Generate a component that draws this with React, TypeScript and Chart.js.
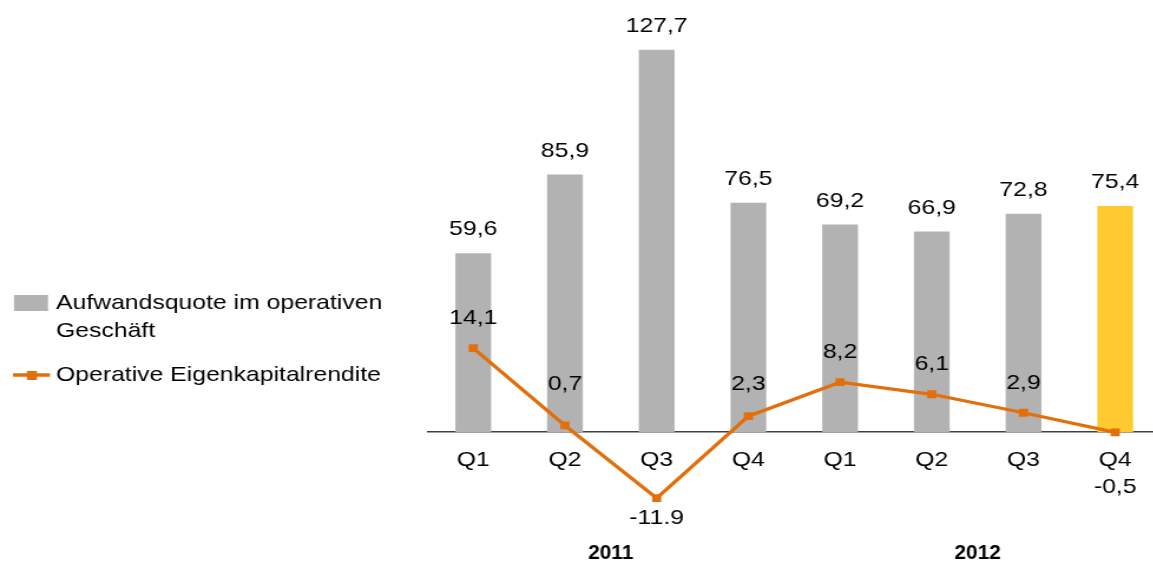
import React, { useEffect, useRef } from "react";
import { Chart, registerables } from "chart.js";

Chart.register(...registerables);

const categories = ["Q1", "Q2", "Q3", "Q4", "Q1", "Q2", "Q3", "Q4"];
const quarterYears = ["2011", "2011", "2011", "2011", "2012", "2012", "2012", "2012"];
const expenseRatio = [59.6, 85.9, 127.7, 76.5, 69.2, 66.9, 72.8, 75.4];
const operatingRoe = [14.1, 0.7, -11.9, 2.3, 8.2, 6.1, 2.9, -0.5];
const roeLabels = ["14,1", "0,7", "-11.9", "2,3", "8,2", "6,1", "2,9", "-0,5"];
const barLabel = "Aufwandsquote im operativen Geschäft";
const lineLabel = "Operative Eigenkapitalrendite";

const GRAY = "#b2b2b2";
const YELLOW = "#ffca2f";
const ORANGE = "#e36f0c";
const FONT = "'Liberation Sans', Arial, sans-serif";

// horizontal stretch of the rendered canvas (text in the reference is wide)
const S = 1.18;
const CSS_W = 1170;
const W = Math.round(CSS_W / S);
const H = 565;

const fmt = (v: number) => v.toFixed(1).replace(".", ",");

const labelsPlugin = {
  id: "customLabels",
  afterDatasetsDraw(chart: any) {
    const ctx = chart.ctx as CanvasRenderingContext2D;
    const barMeta = chart.getDatasetMeta(0);
    const lineMeta = chart.getDatasetMeta(1);
    const y2 = chart.scales.y2;
    const x = chart.scales.x;
    const zero2 = y2.getPixelForValue(0);
    ctx.save();
    ctx.fillStyle = "#000";
    ctx.textAlign = "center";
    ctx.textBaseline = "middle";
    ctx.font = `21px ${FONT}`;
    barMeta.data.forEach((el: any, i: number) => {
      ctx.fillText(fmt(expenseRatio[i]), el.x, el.y - 24);
    });
    lineMeta.data.forEach((el: any, i: number) => {
      const v = operatingRoe[i];
      const y = v >= 0 ? Math.min(el.y - 30, zero2 - 45) : Math.max(el.y + 20, zero2 + 58);
      ctx.fillText(roeLabels[i], el.x, y);
    });
    ctx.font = `bold 21px ${FONT}`;
    const uniq = Array.from(new Set(quarterYears));
    uniq.forEach((yr) => {
      const idx = quarterYears.map((q, i) => (q === yr ? i : -1)).filter((i) => i >= 0);
      const mid = (idx[0] + idx[idx.length - 1]) / 2;
      ctx.save();
      ctx.translate(x.getPixelForValue(mid), 553);
      ctx.scale(0.84, 1);
      ctx.fillText(yr, 0, 0);
      ctx.restore();
    });
    ctx.restore();
  },
  afterDraw(chart: any) {
    const ctx = chart.ctx as CanvasRenderingContext2D;
    const ds = chart.data.datasets;
    ctx.save();
    ctx.font = `21px ${FONT}`;
    ctx.textAlign = "left";
    ctx.textBaseline = "middle";
    ctx.fillStyle = "#000";
    const wrap = (text: string, maxW: number) => {
      const words = text.split(" ");
      const lines: string[] = [];
      let cur = "";
      words.forEach((w) => {
        const t = cur ? cur + " " + w : w;
        if (ctx.measureText(t).width > maxW && cur) {
          lines.push(cur);
          cur = w;
        } else cur = t;
      });
      if (cur) lines.push(cur);
      return lines;
    };
    const tx = 56 / S;
    ctx.fillStyle = GRAY;
    ctx.fillRect(14 / S, 295, 34 / S, 16);
    ctx.fillStyle = "#000";
    wrap(ds[0].label, 350 / S).forEach((ln, i) => ctx.fillText(ln, tx, 303 + i * 28));
    ctx.strokeStyle = ORANGE;
    ctx.lineWidth = 3.5;
    ctx.beginPath();
    ctx.moveTo(13 / S, 375);
    ctx.lineTo(50 / S, 375);
    ctx.stroke();
    ctx.fillStyle = ORANGE;
    ctx.fillRect(27 / S, 371, 10 / S, 9);
    ctx.fillStyle = "#000";
    wrap(ds[1].label, 350 / S).forEach((ln, i) => ctx.fillText(ln, tx, 375 + i * 28));
    ctx.restore();
  },
};

export default function App() {
  const ref = useRef<HTMLCanvasElement | null>(null);
  useEffect(() => {
    if (!ref.current) return;
    const chart = new Chart(ref.current, {
      type: "bar",
      data: {
        labels: categories,
        datasets: [
          {
            type: "bar",
            label: barLabel,
            data: expenseRatio,
            backgroundColor: expenseRatio.map((_, i) => (i === expenseRatio.length - 1 ? YELLOW : GRAY)),
            barThickness: 35 / S,
            yAxisID: "y",
            order: 1,
          },
          {
            type: "line",
            label: lineLabel,
            data: operatingRoe,
            borderColor: ORANGE,
            backgroundColor: ORANGE,
            borderWidth: 3.3,
            pointStyle: "rect",
            pointRadius: 5.5,
            pointBorderWidth: 0,
            tension: 0,
            yAxisID: "y2",
            order: 0,
          } as any,
        ],
      },
      options: {
        responsive: false,
        animation: false,
        devicePixelRatio: 1,
        layout: { padding: { left: 427.6 / S, right: W - 1161.6 / S, top: 20, bottom: 20 } },
        plugins: {
          legend: { display: false },
          tooltip: { enabled: false },
        },
        scales: {
          x: {
            type: "category",
            position: { y: 0 } as any,
            offset: true,
            grid: { display: false, drawTicks: false },
            border: { display: true, color: "#404040", width: 1.5 },
            ticks: {
              color: "#000",
              font: { family: FONT, size: 21 },
              padding: 16,
              maxRotation: 0,
              autoSkip: false,
            },
          },
          y: {
            display: false,
            min: -37.91,
            max: 137.74,
          },
          y2: {
            display: false,
            min: -20.0,
            max: 70.9,
          },
        },
      },
      plugins: [labelsPlugin],
    });
    return () => chart.destroy();
  }, []);
  return (
    <div style={{ position: "fixed", left: 0, top: 0, width: 1153, height: 565, overflow: "hidden", background: "#fff" }}>
      <canvas ref={ref} width={W} height={H} style={{ display: "block", width: CSS_W, height: H }} />
    </div>
  );
}
